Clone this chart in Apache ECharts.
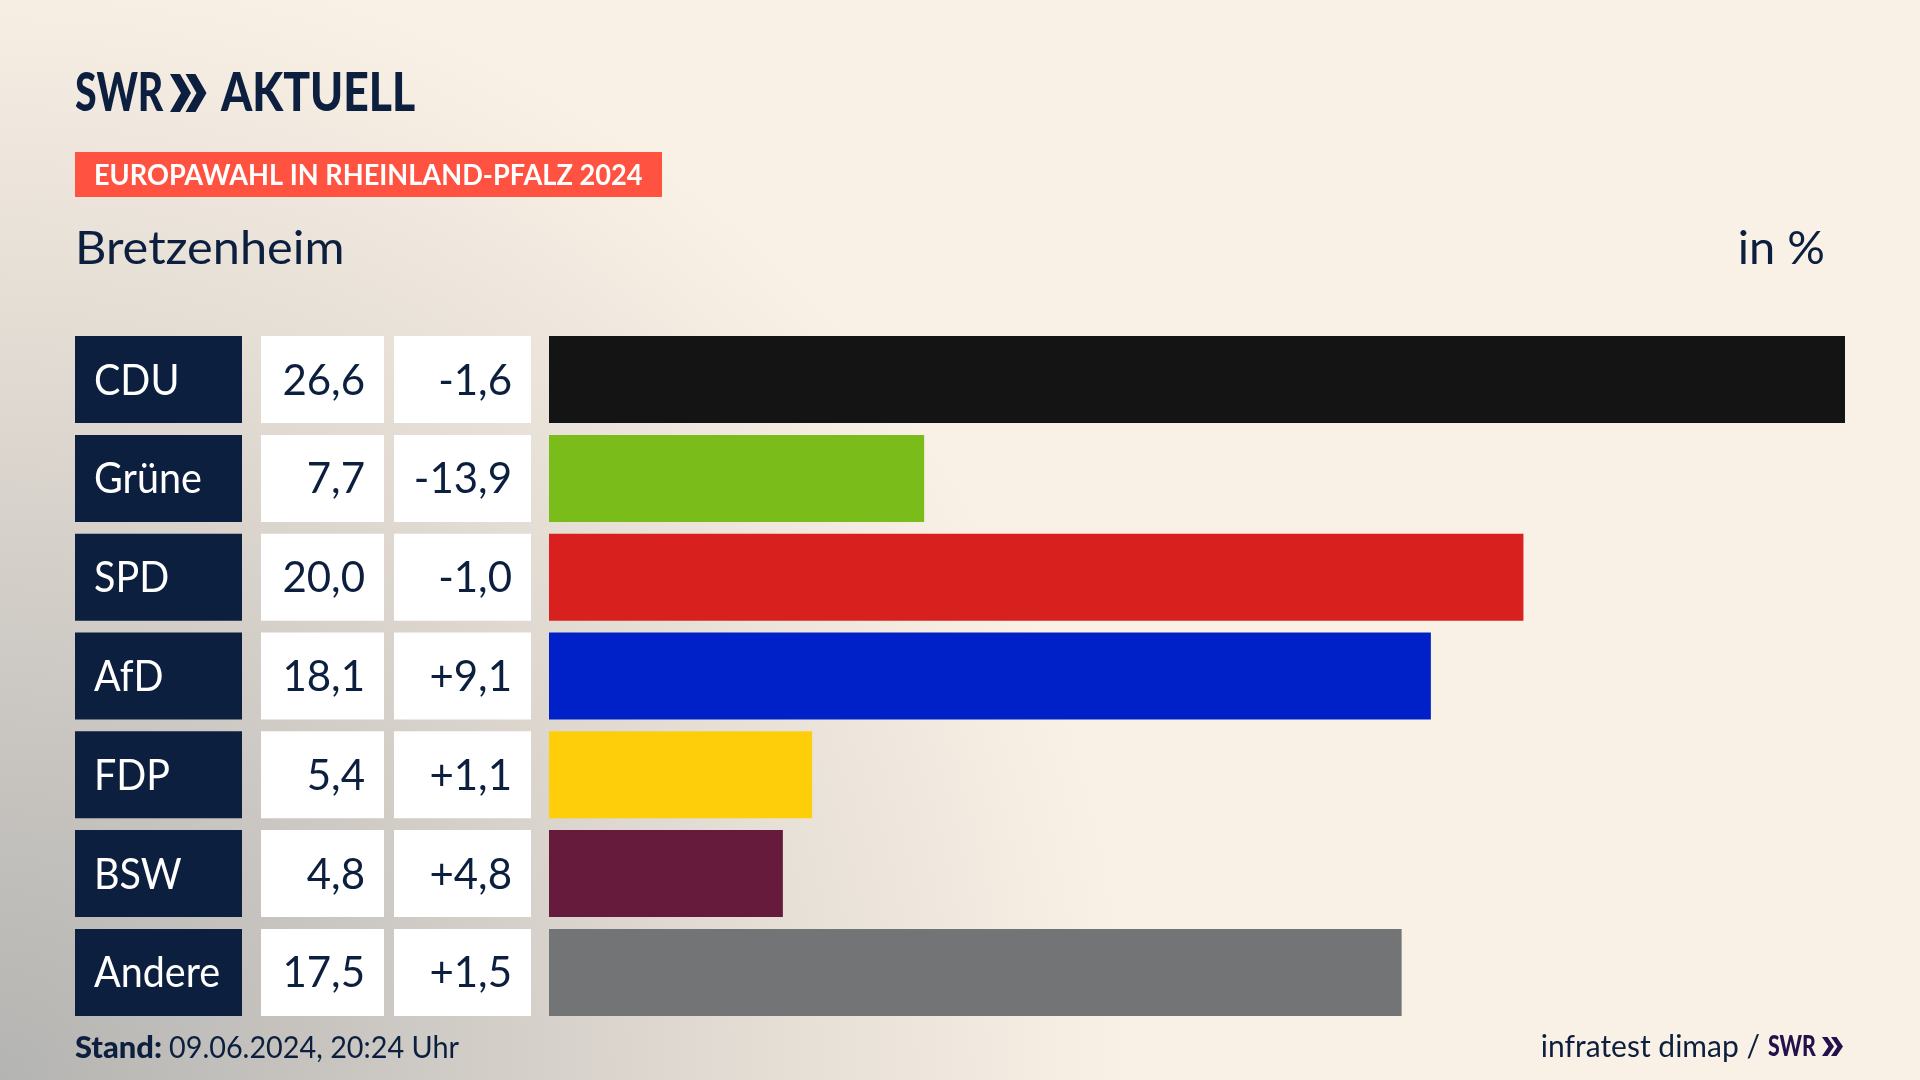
<!DOCTYPE html>
<html>
<head>
<meta charset="utf-8">
<title>Europawahl Bretzenheim</title>
<style>
html, body { margin: 0; padding: 0; background: #FAF1E6; }
#chart { width: 1920px; height: 1080px; }
</style>
<script src="https://cdn.jsdelivr.net/npm/echarts@6/dist/echarts.min.js"></script>
</head>
<body>
<div id="chart"></div>
<script>
var parties = ['CDU', 'Grüne', 'SPD', 'AfD', 'FDP', 'BSW', 'Andere'];
var shares = [26.6, 7.7, 20.0, 18.1, 5.4, 4.8, 17.5];
var changes = [-1.6, -13.9, -1.0, 9.1, 1.1, 4.8, 1.5];
var barColors = ['#141414', '#7ABD1A', '#D8201F', '#0020C8', '#FFCE0A', '#661A3C', '#737475'];

var navy = '#0C1F3F';
var font = 'Lato';
var gridTop = 330.2;
var gridHeight = 691.6;

function commaFmt(v) {
    return v.toFixed(1).replace('.', ',');
}
function signedFmt(v) {
    return (v > 0 ? '+' : '') + commaFmt(v);
}

// table column: one cell per party, filled rect plus text
function cellSeries(gridIndex, values, fmt, cfg) {
    return {
        type: 'custom',
        xAxisIndex: gridIndex,
        yAxisIndex: gridIndex,
        clip: false,
        encode: {x: 0, y: 1},
        data: values.map(function (v, i) {
            return [typeof v === 'number' ? v : 0, parties[i]];
        }),
        renderItem: function (params, api) {
            var i = params.dataIndex;
            var box = params.coordSys;
            var cy = api.coord([0, api.value(1)])[1];
            var tx = cfg.align === 'left' ? box.x + 19 : box.x + box.width - 19;
            return {
                type: 'group',
                children: [{
                    type: 'rect',
                    shape: {x: box.x, y: cy - 43.5, width: box.width, height: 87},
                    style: {fill: cfg.bg}
                }, {
                    type: 'text',
                    x: tx,
                    y: cy + 1.5,
                    scaleX: cfg.scaleX,
                    style: {
                        text: fmt(values[i]),
                        fill: cfg.color,
                        fontFamily: font,
                        fontSize: 42,
                        align: cfg.align,
                        verticalAlign: 'middle'
                    }
                }]
            };
        }
    };
}

function hiddenX(i, max) {
    return {type: 'value', gridIndex: i, min: 0, max: max, show: false};
}
function hiddenY(i) {
    return {type: 'category', gridIndex: i, data: parties, inverse: true, show: false};
}
function logoChevrons(x, y, h, w, t, color) {
    var mk = function (x0) {
        return {
            type: 'polygon',
            shape: {points: [[x0, y], [x0 + t, y], [x0 + w, y + h / 2], [x0 + t, y + h], [x0, y + h], [x0 + w - t, y + h / 2]]},
            style: {fill: color}
        };
    };
    return [mk(x), mk(x + w - t * 0.55)];
}
function label(text, x, y, size, opts) {
    opts = opts || {};
    return {
        type: 'text',
        x: x,
        y: y,
        scaleX: opts.scaleX || 1,
        style: {
            text: text,
            fill: opts.color || navy,
            fontFamily: font,
            fontSize: size,
            fontWeight: opts.weight || 'normal',
            align: opts.align || 'left',
            verticalAlign: 'middle'
        }
    };
}

var chart = echarts.init(document.getElementById('chart'));
chart.setOption({
    animation: false,
    backgroundColor: {
        type: 'radial', x: 0, y: 1, r: 1.05,
        colorStops: [
            {offset: 0, color: '#B4B4B2'},
            {offset: 0.35, color: '#CCC8C3'},
            {offset: 0.7, color: '#E6DFD6'},
            {offset: 1, color: '#FAF1E6'}
        ]
    },
    grid: [
        {left: 549, width: 1296, top: gridTop, height: gridHeight},
        {left: 75, width: 167, top: gridTop, height: gridHeight},
        {left: 261, width: 123, top: gridTop, height: gridHeight},
        {left: 394, width: 137, top: gridTop, height: gridHeight}
    ],
    xAxis: [hiddenX(0, 26.6), hiddenX(1, 1), hiddenX(2, 1), hiddenX(3, 1)],
    yAxis: [hiddenY(0), hiddenY(1), hiddenY(2), hiddenY(3)],
    series: [
        {
            type: 'bar',
            barWidth: 87,
            data: shares.map(function (v, i) {
                return {value: v, itemStyle: {color: barColors[i]}};
            })
        },
        cellSeries(1, parties, function (v) { return v; }, {bg: navy, color: '#FFFFFF', align: 'left', scaleX: 0.94}),
        cellSeries(2, shares, commaFmt, {bg: '#FFFFFF', color: navy, align: 'right', scaleX: 1}),
        cellSeries(3, changes, signedFmt, {bg: '#FFFFFF', color: navy, align: 'right', scaleX: 1})
    ],
    graphic: [
        label('SWR', 75, 94, 53, {weight: 900, scaleX: 0.74}),
        label('AKTUELL', 221, 94, 53, {weight: 900, scaleX: 0.84}),
        {type: 'rect', shape: {x: 75, y: 152, width: 587, height: 45}, style: {fill: '#FF5240'}},
        label('EUROPAWAHL IN RHEINLAND-PFALZ 2024', 94, 176, 28, {weight: 'bold', color: '#FFFFFF', scaleX: 0.97}),
        label('Bretzenheim', 75, 249, 47, {scaleX: 1.035}),
        label('in %', 1825, 249, 47, {align: 'right'}),
        label('Stand:', 75, 1048, 30, {weight: 900, scaleX: 1.03}),
        label('09.06.2024, 20:24 Uhr', 169, 1048, 30, {scaleX: 0.96}),
        label('infratest dimap /', 1760, 1047, 30, {align: 'right'}),
        label('SWR', 1768, 1047, 28, {weight: 900, color: '#24114C', scaleX: 0.76})
    ].concat(logoChevrons(170, 74, 38, 21, 10, navy), logoChevrons(1822, 1037, 19, 12, 5.5, '#24114C'))
});
</script>
</body>
</html>
